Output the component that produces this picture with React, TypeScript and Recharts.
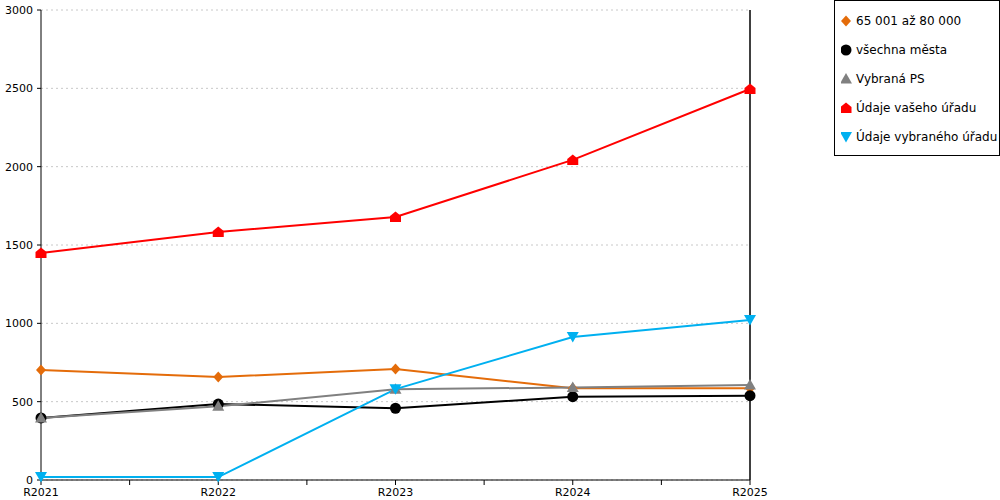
import React from 'react';
import { LineChart, Line, XAxis, YAxis, CartesianGrid, ReferenceLine, Legend } from 'recharts';

const categories = ['R2021', 'R2022', 'R2023', 'R2024', 'R2025'];
const rangeValues = [702, 657, 708, 585, 585];
const allCities = [396, 485, 458, 532, 538];
const selectedPS = [396, 470, 580, 590, 606];
const yourOffice = [1449, 1583, 1679, 2043, 2496];
const selectedOffice = [19, 19, 580, 913, 1021];
const seriesNames = ['65 001 až 80 000', 'všechna města', 'Vybraná PS', 'Údaje vašeho úřadu', 'Údaje vybraného úřadu'];
const yTicks = [0, 500, 1000, 1500, 2000, 2500, 3000];
const xTicks = [0, 0.5, 1, 1.5, 2, 2.5, 3, 3.5, 4];

const data = categories.map((c, i) => ({
  x: i,
  name: c,
  s0: rangeValues[i],
  s1: allCities[i],
  s2: selectedPS[i],
  s3: yourOffice[i],
  s4: selectedOffice[i],
}));

const seriesStyle = [
  { key: 's0', color: '#E46C0A', shape: 'diamond' },
  { key: 's1', color: '#000000', shape: 'circle' },
  { key: 's2', color: '#808080', shape: 'triangle' },
  { key: 's3', color: '#FF0000', shape: 'house' },
  { key: 's4', color: '#00B0F0', shape: 'down' },
];

function Marker({ shape, color, cx, cy }: { shape: string; color: string; cx: number; cy: number }) {
  if (cx == null || cy == null) return null;
  switch (shape) {
    case 'diamond':
      return <polygon points={`${cx},${cy - 5.5} ${cx + 5},${cy} ${cx},${cy + 5.5} ${cx - 5},${cy}`} fill={color} />;
    case 'circle':
      return <circle cx={cx} cy={cy} r={5.5} fill={color} />;
    case 'triangle':
      return <polygon points={`${cx},${cy - 6} ${cx + 6},${cy + 4.5} ${cx - 6},${cy + 4.5}`} fill={color} />;
    case 'house':
      return <polygon points={`${cx},${cy - 5.5} ${cx + 5.5},${cy - 1} ${cx + 5.5},${cy + 5} ${cx - 5.5},${cy + 5} ${cx - 5.5},${cy - 1}`} fill={color} />;
    case 'down':
      return <polygon points={`${cx - 6},${cy - 5} ${cx + 6},${cy - 5} ${cx},${cy + 5.5}`} fill={color} />;
    default:
      return null;
  }
}

const renderLegend = () => (
  <div
    style={{
      border: '1px solid #000',
      boxSizing: 'border-box',
      width: 166,
      height: 156,
      padding: '5px 0 5px 6px',
      background: '#fff',
      fontFamily: '"DejaVu Sans", sans-serif',
      fontSize: 12,
      color: '#000',
    }}
  >
    {seriesNames.map((name, i) => (
      <div key={name} style={{ height: 29, display: 'flex', alignItems: 'center' }}>
        <svg width={14} height={14} style={{ marginRight: 1 }}>
          <Marker shape={seriesStyle[i].shape} color={seriesStyle[i].color} cx={5} cy={7} />
        </svg>
        <span>{name}</span>
      </div>
    ))}
  </div>
);

export default function App() {
  return (
    <div style={{ position: 'absolute', left: 0, top: 0, width: 1000, height: 500, background: '#fff', fontFamily: '"DejaVu Sans", sans-serif' }}>
      <LineChart width={1000} height={500} data={data} margin={{ top: 10, right: 84, bottom: 0, left: 0 }}>
        <CartesianGrid vertical={false} stroke="#c8c8c8" strokeDasharray="2 3" />
        <XAxis
          dataKey="x"
          type="number"
          domain={[0, 4]}
          ticks={xTicks}
          interval={0}
          height={20}
          tickSize={5}
          tickMargin={3}
          stroke="#000"
          tick={{ fill: '#000', fontSize: 11 }}
          tickFormatter={(v: number) => (Number.isInteger(v) ? categories[v] : '')}
        />
        <YAxis
          type="number"
          domain={[0, 3000]}
          ticks={yTicks}
          width={41}
          tickSize={4}
          tickMargin={4}
          stroke="#000"
          tick={{ fill: '#000', fontSize: 11 }}
        />
        <ReferenceLine x={4} stroke="#000" strokeOpacity={1} strokeWidth={1.5} />
        <Legend
          verticalAlign="top"
          align="right"
          layout="vertical"
          content={renderLegend}
          wrapperStyle={{ left: 834, top: 0, width: 166, right: 'auto' }}
        />
        {seriesStyle.map((s, i) => (
          <Line
            key={s.key}
            dataKey={s.key}
            name={seriesNames[i]}
            stroke={s.color}
            strokeWidth={2}
            isAnimationActive={false}
            dot={(p: any) => <Marker key={`${s.key}-${p.index}`} shape={s.shape} color={s.color} cx={p.cx} cy={p.cy} />}
            activeDot={false}
          />
        ))}
      </LineChart>
    </div>
  );
}
